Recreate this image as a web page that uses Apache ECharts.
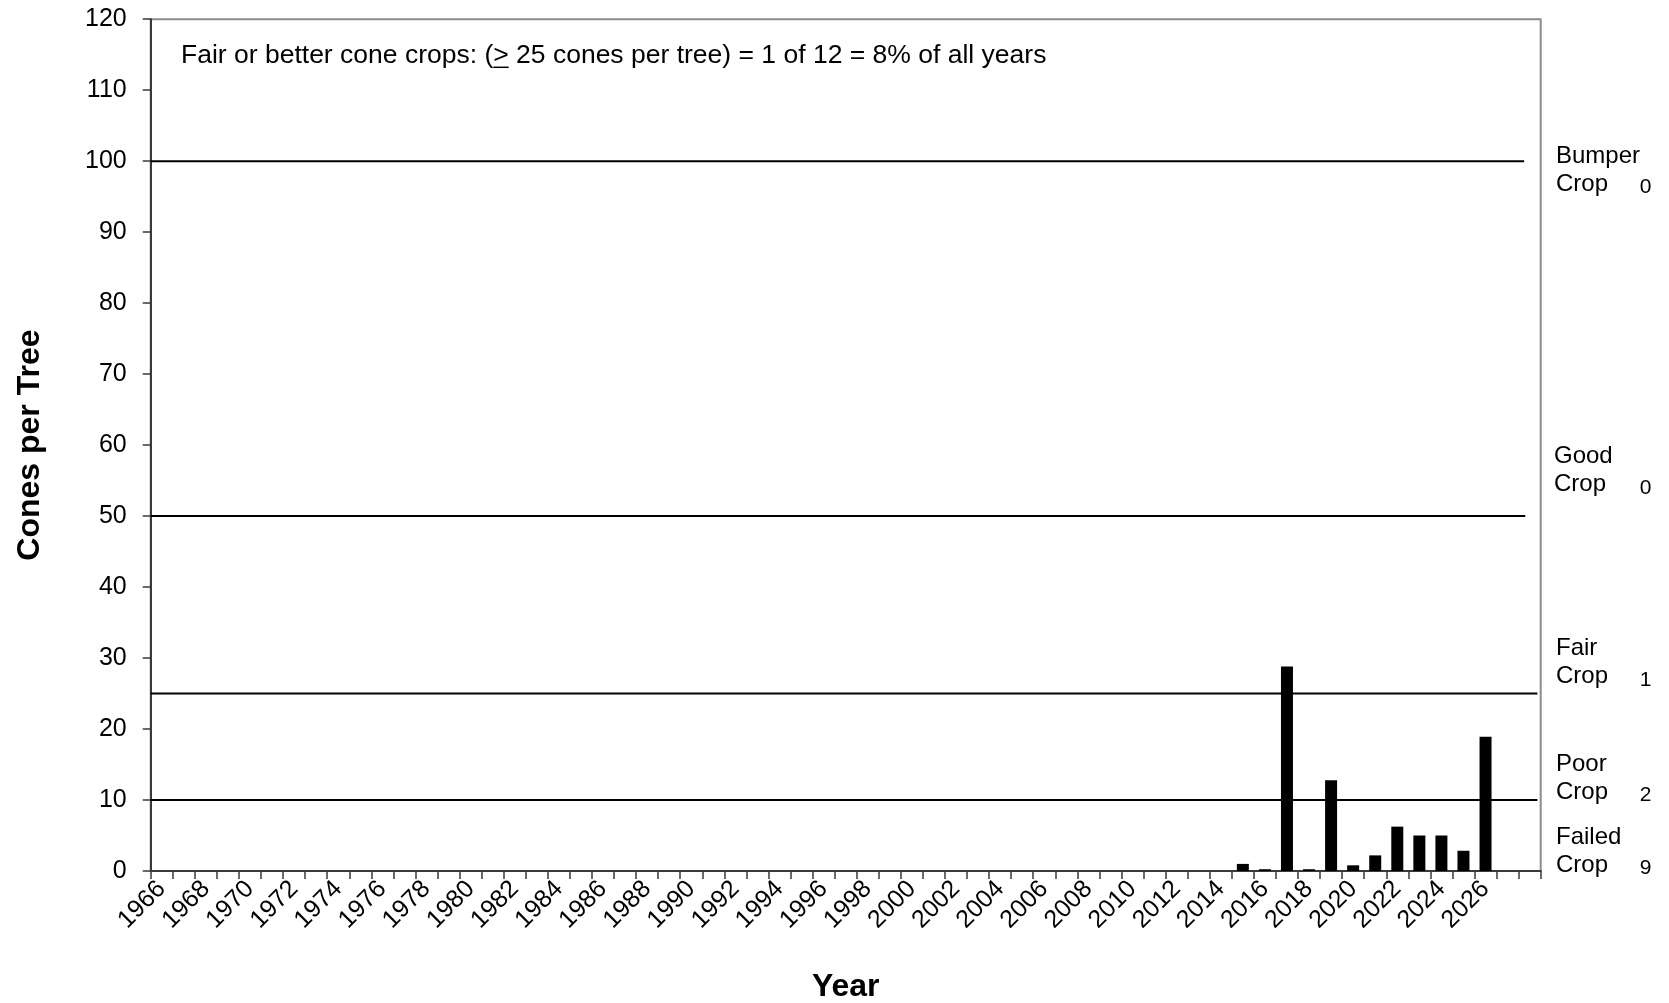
<!DOCTYPE html>
<html>
<head>
<meta charset="utf-8">
<title>Cones per Tree</title>
<script src="https://cdn.jsdelivr.net/npm/echarts@6/dist/echarts.min.js"></script>
<style>
  html, body { margin: 0; padding: 0; background: #ffffff; }
  #chart { width: 1669px; height: 1003px; }
</style>
</head>
<body>
<div id="chart"></div>
<script>
// Survey years shown on the category axis
const years = [
  '1966','1967','1968','1969','1970','1971','1972','1973','1974','1975',
  '1976','1977','1978','1979','1980','1981','1982','1983','1984','1985',
  '1986','1987','1988','1989','1990','1991','1992','1993','1994','1995',
  '1996','1997','1998','1999','2000','2001','2002','2003','2004','2005',
  '2006','2007','2008','2009','2010','2011','2012','2013','2014','2015',
  '2016','2017','2018','2019','2020','2021','2022','2023','2024','2025',
  '2026','2027','2028'
];

// Years with cone counts and the mean cones per tree for each
const surveyYears = ['2015','2016','2017','2018','2019','2020','2021','2022','2023','2024','2025','2026'];
const conesPerTree = [1.0, 0.25, 28.8, 0.25, 12.8, 0.8, 2.2, 6.25, 5.0, 5.0, 2.85, 18.9];

// Crop class thresholds (cones per tree)
const classNames = ['Bumper\nCrop', 'Good\nCrop', 'Fair\nCrop', 'Poor\nCrop', 'Failed\nCrop'];
const classFloors = [100, 50, 25, 10, 0];

const FONT = '"Liberation Sans", Arial, Helvetica, sans-serif';

// Bar values aligned to the full year list
const barData = years.map(y => {
  const i = surveyYears.indexOf(y);
  return i >= 0 ? conesPerTree[i] : null;
});

// Number of years falling into each crop class
const classCounts = classFloors.map((floor, k) => {
  const ceil = k === 0 ? Infinity : classFloors[k - 1];
  return conesPerTree.filter(v => v >= floor && v < ceil).length;
});
const fairOrBetter = conesPerTree.filter(v => v >= 25).length;
const pct = Math.round(100 * fairOrBetter / conesPerTree.length);

// Threshold rules (the Failed class has no line); x in category units
const ruleEnds = { 100: 62.25, 50: 62.3, 25: 62.85, 10: 62.85 };
const ruleSeries = [100, 50, 25, 10].map(v => ({
  type: 'line',
  xAxisIndex: 1,
  yAxisIndex: 0,
  data: [[0, v], [ruleEnds[v], v]],
  symbol: 'none',
  silent: true,
  z: 3,
  lineStyle: { color: '#000', width: 2 }
}));

// Right-hand class labels and counts
const classLabelTops = [142.6, 442.8, 634.4, 750.4, 823.9];
const classLabelLefts = [1556, 1554, 1556, 1556, 1556];
const classCountYs = [187.3, 488.6, 680.2, 795.1, 868.5];
const sideGraphics = [];
classNames.forEach((name, k) => {
  sideGraphics.push({
    type: 'text', left: classLabelLefts[k], top: classLabelTops[k],
    style: { text: name, font: '24px ' + FONT, fill: '#000', lineHeight: 27.7 }
  });
  sideGraphics.push({
    type: 'text', x: 1645.5, y: classCountYs[k],
    style: { text: String(classCounts[k]), font: '21px ' + FONT, fill: '#000',
             align: 'center', verticalAlign: 'middle' }
  });
});

// Summary note with an underlined ">" (greater than or equal)
const noteFont = '26.5px ' + FONT;
const notePre = 'Fair or better cone crops: (';
const noteSym = '>';
const noteText = notePre + noteSym + ' 25 cones per tree) = ' + fairOrBetter +
  ' of ' + conesPerTree.length + ' = ' + pct + '% of all years';
const measure = document.createElement('canvas').getContext('2d');
measure.font = noteFont;
const noteX = 181, noteY = 55.3;
const symX = noteX + measure.measureText(notePre).width;
const symW = measure.measureText(noteSym).width;

const chart = echarts.init(document.getElementById('chart'));
chart.setOption({
  animation: false,
  textStyle: { fontFamily: FONT },
  grid: {
    left: 150.7, right: 128.3, top: 19.2, bottom: 132,
    outerBoundsMode: 'none', containLabel: false,
    show: true, borderColor: '#8c8c8c', borderWidth: 2, backgroundColor: 'transparent'
  },
  xAxis: [{
    type: 'category',
    data: years,
    boundaryGap: true,
    axisLine: { show: true, lineStyle: { color: '#3a3a3a', width: 2 } },
    axisTick: { show: true, interval: 0, length: 8, lineStyle: { color: '#3a3a3a', width: 1.5 } },
    axisLabel: {
      interval: (i) => i % 2 === 0 && i < years.length - 1,
      rotate: 45, fontSize: 25, color: '#000', margin: 14, fontFamily: FONT
    },
    splitLine: { show: false },
    name: 'Year', nameLocation: 'middle', nameGap: 100,
    nameTextStyle: { fontSize: 32, fontWeight: 'bold', color: '#000', fontFamily: FONT }
  }, {
    type: 'value', min: 0, max: years.length, show: false
  }],
  yAxis: {
    type: 'value', min: 0, max: 120, interval: 10,
    axisLine: { show: true, lineStyle: { color: '#3a3a3a', width: 2 } },
    axisTick: { show: true, length: 8, lineStyle: { color: '#3a3a3a', width: 1.5 } },
    axisLabel: { fontSize: 25, color: '#000', margin: 24, fontFamily: FONT },
    splitLine: { show: false },
    name: 'Cones per Tree', nameLocation: 'middle', nameGap: 105,
    nameTextStyle: { fontSize: 32, fontWeight: 'bold', color: '#000', fontFamily: FONT }
  },
  series: [{
    type: 'bar',
    name: 'Cones per Tree',
    data: barData,
    barWidth: 12,
    itemStyle: { color: '#000' },
    z: 4
  }].concat(ruleSeries),
  graphic: sideGraphics.concat([
    {
      type: 'text', x: noteX, y: noteY,
      style: { text: noteText, font: noteFont, fill: '#000', verticalAlign: 'middle' }
    },
    {
      type: 'line',
      shape: { x1: symX, y1: noteY + 12, x2: symX + symW, y2: noteY + 12 },
      style: { stroke: '#000', lineWidth: 1.5 }
    }
  ])
});
</script>
</body>
</html>
